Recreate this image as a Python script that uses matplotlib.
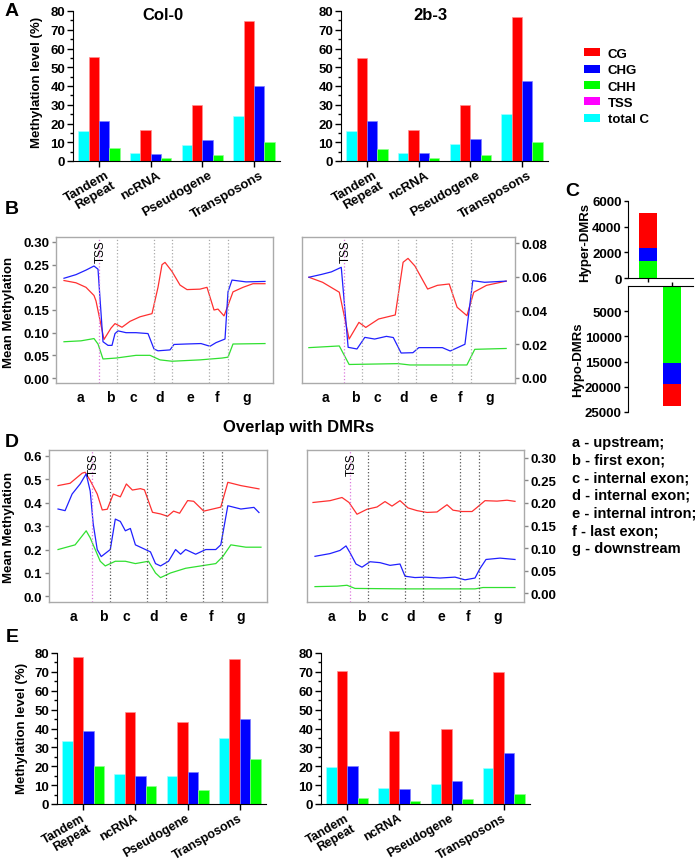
import numpy as np
import matplotlib
matplotlib.use("Agg")
import matplotlib.pyplot as plt
from matplotlib.patches import Patch
from matplotlib.transforms import ScaledTranslation

plt.rcParams['font.family'] = ['Liberation Sans', 'DejaVu Sans']
plt.rcParams['font.weight'] = 'bold'
plt.rcParams['axes.labelweight'] = 'bold'

W, H = 700, 862
fig = plt.figure(figsize=(W / 100, H / 100), dpi=100)


def px_axes(left, top, right, bottom):
    return fig.add_axes([left / W, 1 - bottom / H, (right - left) / W, (bottom - top) / H])


# ---------------- data ----------------
categories = ['Tandem\nRepeat', 'ncRNA', 'Pseudogene', 'Transposons']
contexts = ['total C', 'CG', 'CHG', 'CHH']
ctx_colors = {'CG': '#ff0000', 'CHG': '#0000ff', 'CHH': '#00ff00', 'TSS': '#ff00ff', 'total C': '#00ffff'}
ctx_edges = {'CG': '#ff9090', 'CHG': '#8080ff', 'CHH': '#90ff90', 'total C': '#a0ffff'}

# panel A: all cytosines (total C, CG, CHG, CHH)
a_col0_totalc = [16, 4.5, 8.5, 24]
a_col0_cg = [55.5, 16.5, 30, 74.5]
a_col0_chg = [21.5, 4, 11, 40]
a_col0_chh = [7, 1.5, 3, 10]

a_2b3_totalc = [16, 4.5, 9.2, 25]
a_2b3_cg = [55, 16.8, 30, 77]
a_2b3_chg = [21.2, 4.1, 11.7, 42.5]
a_2b3_chh = [6.6, 1.8, 3.4, 10.3]

# panel E: overlap with DMRs
e_col0_totalc = [33.3, 16, 14.6, 35.1]
e_col0_cg = [77.9, 48.8, 43.3, 77]
e_col0_chg = [38.6, 14.6, 17.1, 45.1]
e_col0_chh = [20.1, 9.5, 7.2, 24]

e_2b3_totalc = [19.6, 8.5, 10.4, 19.2]
e_2b3_cg = [70.6, 38.8, 39.6, 69.8]
e_2b3_chg = [20.1, 8.1, 12, 27.1]
e_2b3_chh = [3.3, 1.6, 2.5, 5.1]

# panel C: DMR counts by context
dmr_hyper = {'CHH': 1350, 'CHG': 1000, 'CG': 2750}
dmr_hypo = {'CHH': 15200, 'CHG': 4200, 'CG': 4500}

# gene-body profiles (position along metagene, mean methylation)
gene_parts = list('abcdefg')
part_label_x = [24, 54, 77, 104, 134, 161, 191]
tss_x = 43
part_bounds = [61, 98, 116, 153, 172]
gene_part_names = ['a - upstream;', 'b - first exon;', 'c - internal exon;', 'd - internal exon;',
                   'e - internal intron;', 'f - last exon;', 'g - downstream']

b_col0_cg_x = [8, 20, 30, 38, 40, 48, 55, 59, 66, 74, 84, 96, 102, 106, 109, 116, 124, 131, 144, 151,
               158, 162, 168, 172, 177, 187, 197, 209]
b_col0_cg_y = [.215, .210, .200, .182, .170, .085, .110, .120, .112, .125, .135, .142, .200, .250, .255,
               .235, .205, .195, .196, .200, .150, .152, .137, .160, .190, .200, .208, .208]
b_col0_chg_x = [8, 20, 30, 38, 42, 47, 52, 56, 59, 62, 70, 80, 92, 98, 102, 114, 118, 130, 145, 154,
                160, 169, 172, 176, 190, 209]
b_col0_chg_y = [.220, .228, .238, .247, .240, .080, .072, .072, .098, .104, .100, .100, .098, .064, .060,
                .062, .074, .075, .076, .070, .078, .086, .190, .216, .212, .213]
b_col0_chh_x = [8, 25, 38, 42, 47, 60, 80, 94, 104, 116, 144, 166, 172, 177, 209]
b_col0_chh_y = [.080, .082, .087, .075, .042, .044, .050, .050, .040, .037, .040, .044, .046, .075, .076]

b_2b3_cg_x = [7, 21, 38, 48, 58, 65, 78, 95, 103, 108, 115, 128, 138, 150, 158, 168, 175, 188, 208]
b_2b3_cg_y = [.0598, .0568, .0509, .0231, .0330, .0300, .0350, .0374, .0687, .0710, .0665, .0528, .0550,
              .0558, .0420, .0370, .0509, .0550, .0575]
b_2b3_chg_x = [7, 20, 30, 40, 47, 56, 64, 74, 86, 93, 101, 113, 119, 143, 151, 166, 174, 186, 208]
b_2b3_chg_y = [.0598, .0615, .0630, .0657, .0182, .0172, .0241, .0231, .0247, .0240, .0148, .0150, .0180,
               .0180, .0160, .0200, .0578, .0568, .0575]
b_2b3_chh_x = [7, 38, 48, 98, 110, 168, 176, 208]
b_2b3_chh_y = [.0180, .0190, .0080, .0085, .0077, .0077, .0170, .0175]

d_col0_cg_x = [9, 21, 33, 36, 41, 48, 53, 58, 64, 71, 77, 83, 91, 95, 103, 111, 118, 124, 130, 138, 144,
               154, 164, 171, 178, 191, 209]
d_col0_cg_y = [.473, .483, .526, .530, .495, .437, .369, .372, .437, .425, .480, .454, .460, .455, .359,
               .352, .342, .364, .355, .409, .406, .364, .374, .381, .487, .473, .459]
d_col0_chg_x = [9, 16, 23, 31, 37, 41, 44, 48, 52, 61, 66, 71, 76, 81, 86, 96, 101, 106, 111, 119, 126,
                131, 136, 146, 156, 166, 171, 178, 191, 204, 209]
d_col0_chg_y = [.373, .366, .437, .480, .523, .450, .310, .200, .170, .200, .330, .320, .280, .290, .220,
                .200, .190, .140, .130, .150, .200, .180, .200, .180, .200, .200, .220, .387, .373, .380, .358]
d_col0_chh_x = [9, 26, 37, 41, 51, 56, 66, 76, 86, 99, 106, 111, 121, 136, 151, 166, 173, 181, 196, 211]
d_col0_chh_y = [.200, .220, .280, .250, .150, .130, .150, .150, .140, .150, .100, .080, .100, .120, .130,
                .140, .170, .220, .210, .210]

d_2b3_cg_x = [6, 23, 35, 42, 50, 60, 70, 78, 85, 93, 101, 110, 120, 130, 140, 146, 155, 165, 170, 178,
              190, 200, 208]
d_2b3_cg_y = [.201, .205, .212, .201, .175, .186, .191, .203, .193, .205, .189, .183, .179, .180, .196,
              .184, .181, .181, .190, .205, .204, .206, .2035]
d_2b3_chg_x = [8, 23, 33, 39, 43, 49, 55, 63, 73, 83, 93, 98, 108, 118, 133, 148, 158, 168, 173, 179,
               193, 208]
d_2b3_chg_y = [.082, .088, .095, .105, .090, .065, .058, .070, .068, .062, .065, .038, .035, .036, .034,
               .036, .030, .034, .055, .075, .078, .075]
d_2b3_chh_x = [8, 30, 40, 48, 98, 168, 176, 208]
d_2b3_chh_y = [.015, .016, .018, .011, .010, .010, .013, .013]

line_colors = {'CG': '#ff3030', 'CHG': '#2020ff', 'CHH': '#30e030'}


# ---------------- helpers ----------------
def bar_panel(ax, totalc, cg, chg, chh, label_size=9.5, shift_px=6):
    x = np.arange(len(categories))
    for i, (ctx, vals) in enumerate(zip(contexts, [totalc, cg, chg, chh])):
        ax.bar(x + (i - 1.5) * 0.2, vals, 0.2, color=ctx_colors[ctx],
               edgecolor=ctx_edges[ctx], linewidth=0.5)
    ax.set_xlim(-0.5, 3.5)
    ax.set_ylim(0, 80)
    ax.set_yticks(range(0, 81, 10))
    ax.set_yticks(range(5, 80, 10), minor=True)
    ax.spines['top'].set_visible(False)
    ax.spines['right'].set_visible(False)
    ax.tick_params(axis='both', direction='out', length=4, width=1, labelsize=9.5, pad=1.5)
    ax.tick_params(axis='y', which='minor', length=2, width=1)
    ax.set_xticks(x)
    ax.set_xticklabels(categories, rotation=30, ha='right', rotation_mode='anchor', fontsize=label_size)
    shift = ScaledTranslation(shift_px / 100, 0, fig.dpi_scale_trans)
    for lab in ax.get_xticklabels():
        lab.set_transform(lab.get_transform() + shift)
        lab.set_linespacing(1.0)


def profile_panel(ax, series, ylim, yticks, side, divcolor):
    for xs, ys, ctx in series:
        ax.plot(xs, ys, color=line_colors[ctx], lw=0.9)
    ax.set_xlim(0, 217)
    ax.set_ylim(*ylim)
    ax.axvline(tss_x, color='#dd77dd', ls=':', lw=0.9)
    for b in part_bounds:
        ax.axvline(b, color=divcolor, ls=':', lw=0.9)
    ax.text(tss_x + 1.5, 0.985, 'TSS', transform=ax.get_xaxis_transform(), rotation=90,
            ha='center', va='top', fontsize=8.5, fontweight='normal')
    ax.set_xticks(part_label_x)
    ax.set_xticklabels(gene_parts, fontsize=10)
    ax.tick_params(axis='x', length=0, pad=5)
    ax.set_yticks(yticks)
    ax.tick_params(axis='y', direction='out', length=3, width=1, color='#888888', labelsize=9.5, pad=2)
    if side == 'right':
        ax.yaxis.tick_right()
    for sp in ax.spines.values():
        sp.set_color('#aaaaaa')
        sp.set_linewidth(1)


# ---------------- panel A ----------------
ax_a1 = px_axes(73, 12, 280, 162)
bar_panel(ax_a1, a_col0_totalc, a_col0_cg, a_col0_chg, a_col0_chh)
ax_a2 = px_axes(341, 12, 548, 162)
bar_panel(ax_a2, a_2b3_totalc, a_2b3_cg, a_2b3_chg, a_2b3_chh)
fig.text(163 / W, 1 - 15 / H, 'Col-0', ha='center', va='center', fontsize=12)
fig.text(430 / W, 1 - 15 / H, '2b-3', ha='center', va='center', fontsize=12)
fig.text(37 / W, 1 - 82 / H, 'Methylation level (%)', rotation=90, ha='center', va='center', fontsize=9.5)

legend_names = ['CG', 'CHG', 'CHH', 'TSS', 'total C']
handles = [Patch(facecolor=ctx_colors[n], edgecolor='none') for n in legend_names]
fig.legend(handles, legend_names, loc='upper left', bbox_to_anchor=(584 / W, 1 - 49 / H),
           frameon=False, fontsize=9.5, handlelength=1.25, handleheight=0.55,
           labelspacing=0.33, handletextpad=0.55, borderpad=0, borderaxespad=0)

# ---------------- panel B ----------------
ax_b1 = px_axes(56, 238, 273, 384)
profile_panel(ax_b1, [(b_col0_cg_x, b_col0_cg_y, 'CG'), (b_col0_chg_x, b_col0_chg_y, 'CHG'),
                      (b_col0_chh_x, b_col0_chh_y, 'CHH')],
              (-0.011, 0.311), [0, 0.05, 0.10, 0.15, 0.20, 0.25, 0.30], 'left', '#aaaaaa')
ax_b1.set_yticklabels(['0.00', '0.05', '0.10', '0.15', '0.20', '0.25', '0.30'])
ax_b2 = px_axes(302, 238, 515, 384)
profile_panel(ax_b2, [(b_2b3_cg_x, b_2b3_cg_y, 'CG'), (b_2b3_chg_x, b_2b3_chg_y, 'CHG'),
                      (b_2b3_chh_x, b_2b3_chh_y, 'CHH')],
              (-0.003, 0.0837), [0, 0.02, 0.04, 0.06, 0.08], 'right', '#aaaaaa')
ax_b2.set_yticklabels(['0.00', '0.02', '0.04', '0.06', '0.08'])
fig.text(9 / W, 1 - 312 / H, 'Mean Methylation', rotation=90, ha='center', va='center', fontsize=9.5)

# ---------------- panel C ----------------
ax_c1 = px_axes(628, 202, 693, 279)
bottom = 0
for ctx in ['CHH', 'CHG', 'CG']:
    ax_c1.bar([0], [dmr_hyper[ctx]], 0.72, bottom=bottom, color=ctx_colors[ctx])
    bottom += dmr_hyper[ctx]
ax_c1.set_xlim(-0.8, 1.84)
ax_c1.set_ylim(0, 6000)
ax_c1.set_yticks([0, 2000, 4000, 6000])
ax_c1.set_xticks([0])
ax_c1.set_xticklabels([])
ax_c1.spines['top'].set_visible(False)
ax_c1.spines['right'].set_visible(False)
ax_c1.tick_params(direction='out', length=3, width=1, labelsize=9.5, pad=1.5)

ax_c2 = px_axes(628, 287, 693, 413)
bottom = 0
for ctx in ['CHH', 'CHG', 'CG']:
    ax_c2.bar([1], [dmr_hypo[ctx]], 0.72, bottom=bottom, color=ctx_colors[ctx])
    bottom += dmr_hypo[ctx]
ax_c2.set_xlim(-0.8, 1.84)
ax_c2.set_ylim(25000, 0)
ax_c2.set_yticks([5000, 10000, 15000, 20000, 25000])
ax_c2.xaxis.tick_top()
ax_c2.set_xticks([1])
ax_c2.set_xticklabels([])
ax_c2.spines['bottom'].set_visible(False)
ax_c2.spines['right'].set_visible(False)
ax_c2.tick_params(direction='out', length=3, width=1, labelsize=9.5, pad=1.5)
fig.text(585 / W, 1 - 242 / H, 'Hyper-DMRs', rotation=90, ha='center', va='center', fontsize=9.5)
fig.text(578 / W, 1 - 360 / H, 'Hypo-DMRs', rotation=90, ha='center', va='center', fontsize=9.5)

# ---------------- panel D ----------------
ax_d1 = px_axes(49, 451, 267, 603)
profile_panel(ax_d1, [(d_col0_cg_x, d_col0_cg_y, 'CG'), (d_col0_chg_x, d_col0_chg_y, 'CHG'),
                      (d_col0_chh_x, d_col0_chh_y, 'CHH')],
              (-0.024, 0.625), [0, 0.1, 0.2, 0.3, 0.4, 0.5, 0.6], 'left', '#555555')
ax_d1.set_yticklabels(['0.0', '0.1', '0.2', '0.3', '0.4', '0.5', '0.6'])
ax_d2 = px_axes(307, 451, 524, 603)
profile_panel(ax_d2, [(d_2b3_cg_x, d_2b3_cg_y, 'CG'), (d_2b3_chg_x, d_2b3_chg_y, 'CHG'),
                      (d_2b3_chh_x, d_2b3_chh_y, 'CHH')],
              (-0.019, 0.317), [0, 0.05, 0.10, 0.15, 0.20, 0.25, 0.30], 'right', '#555555')
ax_d2.set_yticklabels(['0.00', '0.05', '0.10', '0.15', '0.20', '0.25', '0.30'])
fig.text(9 / W, 1 - 527 / H, 'Mean Methylation', rotation=90, ha='center', va='center', fontsize=9.5)
fig.text(299 / W, 1 - 428 / H, 'Overlap with DMRs', ha='center', va='center', fontsize=12)

for i, name in enumerate(gene_part_names):
    fig.text(572 / W, 1 - (443 + i * 17.6) / H, name, ha='left', va='center', fontsize=10.5)

# ---------------- panel E ----------------
ax_e1 = px_axes(57, 654, 266, 805)
bar_panel(ax_e1, e_col0_totalc, e_col0_cg, e_col0_chg, e_col0_chh, label_size=9, shift_px=-2)
ax_e2 = px_axes(321, 654, 530, 805)
bar_panel(ax_e2, e_2b3_totalc, e_2b3_cg, e_2b3_chg, e_2b3_chh, label_size=9, shift_px=-2)
fig.text(22 / W, 1 - 728 / H, 'Methylation level (%)', rotation=90, ha='center', va='center', fontsize=9.5)

# panel letters
for letter, (lx, ly) in {'A': (12, 11), 'B': (12, 210), 'C': (572, 192), 'D': (12, 443),
                         'E': (12, 637)}.items():
    fig.text(lx / W, 1 - ly / H, letter, ha='center', va='center', fontsize=14)

fig.savefig('out.png', dpi=100)
